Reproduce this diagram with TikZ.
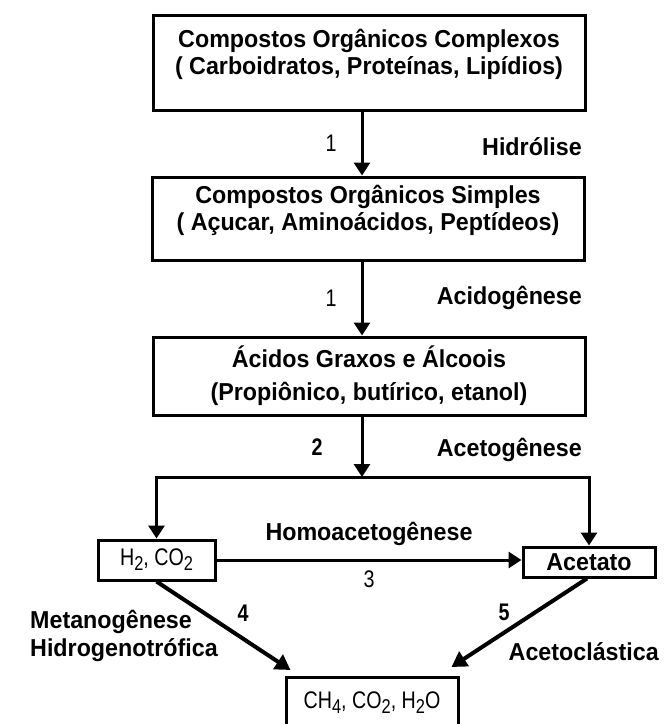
\documentclass[tikz,border=0pt]{standalone}
\usepackage{fontspec}
\setmainfont{Liberation Sans}
\newfontfamily\narrowfont[FakeStretch=0.82]{Liberation Sans}
\newfontfamily\boxfont[FakeStretch=0.95]{Liberation Sans}
\usetikzlibrary{arrows.meta,positioning,calc}
\newcommand{\chemsub}[1]{\raisebox{-0.4ex}{\fontsize{20}{20}\selectfont #1}}
\tikzset{
  stagebox/.style={
    draw,
    line width=3pt,
    minimum width=432pt,
    inner sep=0pt,
    align=center,
    font=\fontsize{24.5}{27}\selectfont\boxfont\bfseries
  },
  gasbox/.style={
    draw,
    line width=3pt,
    inner sep=0pt,
    align=center,
    font=\fontsize{24}{24}\selectfont\narrowfont
  },
  phaselabel/.style={
    inner sep=0pt,
    font=\fontsize{24.5}{28}\selectfont\boxfont\bfseries
  },
  numlabel/.style={
    inner sep=0pt,
    font=\fontsize{24}{24}\selectfont\narrowfont\bfseries
  },
  flow/.style={
    -{Triangle[length=13pt,width=16pt]},
    line width=3pt
  },
  feed/.style={
    -{Triangle[length=15pt,width=17pt]},
    line width=4pt
  }
}

\begin{document}
\begin{tikzpicture}[x=1pt,y=-1pt]
\useasboundingbox (0,0) rectangle (665,724);
\coordinate (spine) at (362,0);
% main chain
\node[stagebox, minimum height=95pt, text depth=22pt] (complexos) at (369,62.5) {Compostos Orgânicos Complexos\\( Carboidratos, Proteínas, Lipídios)};
\node[stagebox, minimum height=83pt, text depth=22pt] (simples) at (368,218.5) {Compostos Orgânicos Simples\\( Açucar, Aminoácidos, Peptídeos)};
\node[stagebox, minimum height=78pt, font=\fontsize{24.5}{33}\selectfont\boxfont\bfseries] (graxos) at (369,376) {Ácidos Graxos e Álcoois\\(Propiônico, butírico, etanol)};
% products
\node[gasbox, minimum width=117pt, minimum height=40pt] (gases) at (156.5,560) {H\chemsub{2}, CO\chemsub{2}};
\node[gasbox, minimum width=132pt, minimum height=30pt, font=\fontsize{24.5}{24.5}\selectfont\boxfont\bfseries] (acetato) at (589,562) {Acetato};
\node[gasbox, minimum width=172pt, minimum height=50pt, anchor=north] (metano) at (372,676) {CH\chemsub{4}, CO\chemsub{2}, H\chemsub{2}O};
\coordinate (split) at (362,477);

\draw[flow] (complexos.south -| spine) -- node[numlabel, font=\fontsize{24}{24}\selectfont\narrowfont, left=24pt] (n1) {1} (simples.north -| spine);
\draw[flow] (simples.south -| spine) -- node[numlabel, font=\fontsize{24}{24}\selectfont\narrowfont, left=24pt] (n2) {1} (graxos.north -| spine);
\draw[flow] (graxos.south -| spine) -- node[numlabel, left=38pt] (n3) {2} (split);
\draw[flow] (split) -| (gases.north);
\draw[flow] (split) -| (acetato.north);
\draw[flow] (gases.east) -- node[phaselabel, above=13pt] (homo) {Homoacetogênese} node[numlabel, font=\fontsize{24}{24}\selectfont\narrowfont, below=9pt] (n4) {3} (gases.east -| acetato.west);
\draw[feed] (gases.south) -- ($(metano.north west)+(6,-6)$);
\draw[feed] ($(acetato.south)+(-2,0)$) -- ($(metano.north east)+(-8,-9)$);

\node[phaselabel, anchor=east] (hidrolise) at (582,147) {Hidrólise};
\node[phaselabel, anchor=east] (acido) at (582,298) {Acidogênese};
\node[phaselabel, anchor=east] (aceto) at (582,450) {Acetogênese};
\node[numlabel] (n5) at (243,613) {4};
\node[numlabel] (n6) at (504,612) {5};
\node[phaselabel, anchor=north west, align=left] (hidrogeno) at (30,610) {Metanogênese\\Hidrogenotrófica};
\node[phaselabel, anchor=east] (acetocl) at (659,652) {Acetoclástica};
\end{tikzpicture}
\end{document}
